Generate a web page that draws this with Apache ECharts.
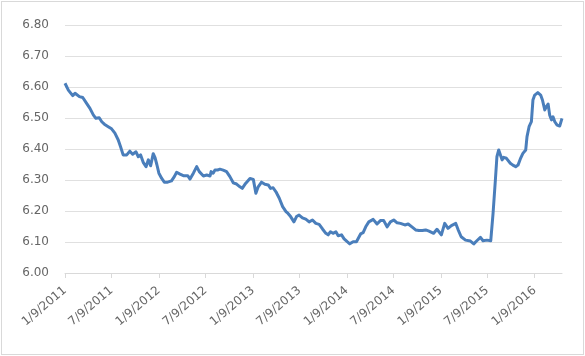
<!DOCTYPE html>
<html><head><meta charset="utf-8">
<script src="https://cdn.jsdelivr.net/npm/echarts@6/dist/echarts.min.js"></script>
<style>
html,body{margin:0;padding:0;background:#fff}
#wrap{position:relative;width:585px;height:356px}
#c{position:absolute;left:0;top:0;width:585px;height:356px}
#b{position:absolute;left:1px;top:1px;width:581px;height:352px;border:1px solid #d9d9d9;pointer-events:none}
</style>
</head><body>
<div id="wrap"><div id="c"></div><div id="b"></div></div>
<script>
var dates = [
'2011-01-09','2011-01-22','2011-01-28','2011-02-08','2011-02-17','2011-02-23','2011-03-06','2011-03-19','2011-04-03','2011-04-16',
'2011-04-29','2011-05-09','2011-05-22','2011-06-01','2011-06-11','2011-06-26','2011-07-09','2011-07-22','2011-08-04','2011-08-13',
'2011-08-23','2011-09-06','2011-09-18','2011-09-29','2011-10-12','2011-10-21','2011-10-30','2011-11-09','2011-11-20','2011-11-29',
'2011-12-08','2011-12-18','2011-12-25','2012-01-01','2012-01-09','2012-01-20','2012-01-30','2012-02-12','2012-02-27','2012-03-09',
'2012-03-18','2012-03-31','2012-04-13','2012-04-30','2012-05-09','2012-05-22','2012-06-04','2012-06-14','2012-06-30','2012-07-13',
'2012-07-26','2012-07-30','2012-08-07','2012-08-14','2012-08-24','2012-09-02','2012-09-15','2012-09-28','2012-10-11','2012-10-24',
'2012-11-06','2012-11-19','2012-11-28','2012-12-11','2012-12-28','2013-01-10','2013-01-20','2013-01-29','2013-02-11','2013-02-24',
'2013-03-09','2013-03-18','2013-03-28','2013-04-08','2013-04-21','2013-05-04','2013-05-17','2013-05-25','2013-06-04','2013-06-17',
'2013-06-27','2013-07-07','2013-07-20','2013-08-02','2013-08-15','2013-08-28','2013-09-10','2013-09-23','2013-10-06','2013-10-19',
'2013-10-28','2013-11-06','2013-11-16','2013-11-27','2013-12-06','2013-12-19','2013-12-29','2014-01-10','2014-01-20','2014-02-02',
'2014-02-15','2014-03-03','2014-03-13','2014-03-23','2014-04-04','2014-04-21','2014-05-06','2014-05-19','2014-06-01','2014-06-14',
'2014-06-27','2014-07-10','2014-07-23','2014-08-05','2014-08-22','2014-09-04','2014-09-21','2014-10-03','2014-10-16','2014-10-29',
'2014-11-11','2014-11-24','2014-12-12','2014-12-25','2015-01-11','2015-01-24','2015-02-06','2015-02-19','2015-03-08','2015-03-17',
'2015-03-29','2015-04-15','2015-05-04','2015-05-17','2015-05-29','2015-06-12','2015-06-22','2015-07-07','2015-07-22','2015-07-31',
'2015-08-09','2015-08-15','2015-08-22','2015-08-29','2015-09-04','2015-09-10','2015-09-21','2015-09-27','2015-10-06','2015-10-16',
'2015-10-27','2015-11-05','2015-11-14','2015-11-24','2015-12-05','2015-12-10','2015-12-18','2015-12-27','2016-01-02','2016-01-09',
'2016-01-21','2016-02-01','2016-02-08','2016-02-17','2016-02-23','2016-03-01','2016-03-07','2016-03-14','2016-03-20','2016-03-27',
'2016-04-05','2016-04-15','2016-04-24'
];
var rates = [
6.612,6.590,6.585,6.572,6.580,6.576,6.569,6.566,6.547,6.531,
6.510,6.499,6.501,6.488,6.480,6.472,6.465,6.451,6.429,6.407,
6.381,6.381,6.393,6.383,6.391,6.375,6.381,6.357,6.343,6.365,
6.346,6.385,6.372,6.350,6.322,6.305,6.293,6.293,6.297,6.311,
6.325,6.319,6.314,6.314,6.303,6.322,6.343,6.327,6.313,6.316,
6.313,6.327,6.322,6.332,6.332,6.335,6.332,6.327,6.311,6.291,
6.287,6.278,6.273,6.289,6.305,6.302,6.257,6.278,6.293,6.286,
6.284,6.273,6.275,6.262,6.241,6.214,6.198,6.192,6.182,6.165,
6.182,6.187,6.178,6.174,6.165,6.171,6.160,6.157,6.142,6.128,
6.123,6.133,6.128,6.133,6.120,6.123,6.110,6.101,6.094,6.101,
6.101,6.126,6.130,6.149,6.165,6.173,6.158,6.169,6.169,6.149,
6.165,6.171,6.162,6.160,6.155,6.158,6.147,6.139,6.137,6.137,
6.139,6.135,6.128,6.141,6.123,6.160,6.144,6.153,6.160,6.140,
6.117,6.106,6.103,6.094,6.104,6.115,6.104,6.106,6.104,6.192,
6.300,6.375,6.397,6.399,6.365,6.373,6.370,6.375,6.354,6.348,
6.343,6.348,6.368,6.386,6.397,6.440,6.472,6.488,6.558,6.574,
6.582,6.574,6.558,6.526,6.536,6.545,6.510,6.494,6.504,6.488,
6.477,6.474,6.499
];
var tickDates = ['2011-01-09','2011-07-09','2012-01-09','2012-07-09','2013-01-09','2013-07-09',
'2014-01-09','2014-07-09','2015-01-09','2015-07-09','2016-01-09'];
var axisStart = '2011-01-09';
var axisEnd = '2016-04-24';

var ts = function(s){ return Date.parse(s + 'T00:00:00Z'); };
var seriesData = dates.map(function(d, i){ return [ts(d), rates[i]]; });
var tickTs = tickDates.map(ts);

var chart = echarts.init(document.getElementById('c'), null, {renderer: 'canvas'});
chart.setOption({
  animation: false,
  backgroundColor: '#ffffff',
  grid: {left: 65, right: 23, top: 25, bottom: 83, containLabel: false},
  xAxis: {
    type: 'value',
    min: ts(axisStart),
    max: ts(axisEnd),
    axisLine: {show: true, lineStyle: {color: '#d9d9d9', width: 1}},
    axisTick: {show: true, customValues: tickTs, length: 5, lineStyle: {color: '#d9d9d9'}},
    splitLine: {show: false},
    axisLabel: {
      customValues: tickTs,
      rotate: 40,
      margin: 16,
      color: '#666666',
      fontFamily: 'DejaVu Sans',
      fontSize: 12,
      formatter: function(v){
        var d = new Date(v);
        return (d.getUTCMonth() + 1) + '/' + d.getUTCDate() + '/' + d.getUTCFullYear();
      }
    }
  },
  yAxis: {
    type: 'value',
    min: 6.0,
    max: 6.8,
    interval: 0.1,
    axisLine: {show: false},
    axisTick: {show: false},
    splitLine: {show: true, lineStyle: {color: '#e0e0e0', width: 1}},
    axisLabel: {
      margin: 16,
      color: '#666666',
      fontFamily: 'DejaVu Sans',
      fontSize: 12,
      formatter: function(v){ return v.toFixed(2); }
    }
  },
  series: [{
    type: 'line',
    data: seriesData,
    showSymbol: false,
    smooth: false,
    lineStyle: {color: '#4a7ebb', width: 3, join: 'round'},
    itemStyle: {color: '#4a7ebb'}
  }]
});
</script>
</body></html>
